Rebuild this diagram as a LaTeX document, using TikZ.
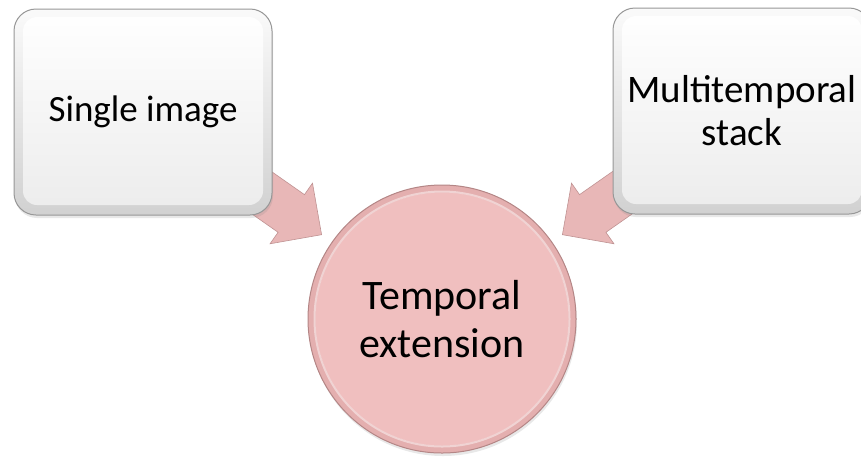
\documentclass[tikz,border=0pt]{standalone}
\usepackage{fontspec}
\setmainfont{Carlito}
\usetikzlibrary{calc,shadows}
\pgfdeclarelayer{background}
\pgfsetlayers{background,main}
\definecolor{boxrim}{HTML}{979797}
\definecolor{pinkfill}{HTML}{F0BFBF}
\definecolor{pinkrim}{HTML}{B48686}
\definecolor{pinkouter}{HTML}{E4AFAF}
\definecolor{arrowfill}{HTML}{E8B7B7}
\definecolor{arrowrim}{HTML}{BF9292}
\tikzset{
  bevelbox/.style={rectangle, rounded corners=22pt, minimum width=258pt, minimum height=206pt,
    draw=boxrim, line width=1pt, top color=gray!4, bottom color=gray!36,
    align=center, inner sep=0pt,
    drop shadow={opacity=0.18, shadow xshift=1pt, shadow yshift=-3pt},
    path picture={\shade[top color=white, bottom color=gray!15, rounded corners=14pt]
      ([shift={(9pt,10pt)}]path picture bounding box.south west) rectangle
      ([shift={(-9pt,-8pt)}]path picture bounding box.north east);}},
  hub/.style={circle, minimum size=268pt, inner sep=0pt, draw=pinkrim, line width=1pt,
    fill=pinkouter, align=center, font=\fontsize{42}{48}\selectfont,
    drop shadow={opacity=0.18, shadow xshift=1pt, shadow yshift=-3pt},
    path picture={\fill[pinkfill] (path picture bounding box.center) circle (126.5pt);
      \draw[white, opacity=0.45, line width=2pt] (path picture bounding box.center) circle (127.5pt);}},
  blockarrow/.style={fill=arrowfill, draw=arrowrim, line width=0.6pt, line join=miter}
}
\begin{document}
\begin{tikzpicture}[x=1pt,y=-1pt]
\useasboundingbox (0,0) rectangle (861,459);
\node[bevelbox, font=\fontsize{37}{43}\selectfont] (single) at (143,112) {Single image};
\node[bevelbox, font=\fontsize{39}{43}\selectfont] (multi) at (742,111) {Multitemporal\\stack};
\node[hub] (temporal) at (442,319) {Temporal\\extension};
\begin{pgfonlayer}{background}
\path[blockarrow]
  ($(temporal.center)+(215:262)+(305:23)$) --
  ($(temporal.center)+(215:184)+(305:23)$) --
  ($(temporal.center)+(215:184)+(305:37)$) --
  ($(temporal.center)+(215:147)$) --
  ($(temporal.center)+(215:184)+(125:37)$) --
  ($(temporal.center)+(215:184)+(125:23)$) --
  ($(temporal.center)+(215:262)+(125:23)$) -- cycle;
\path[blockarrow]
  ($(temporal.center)+(325:262)+(235:23)$) --
  ($(temporal.center)+(325:184)+(235:23)$) --
  ($(temporal.center)+(325:184)+(235:37)$) --
  ($(temporal.center)+(325:147)$) --
  ($(temporal.center)+(325:184)+(55:37)$) --
  ($(temporal.center)+(325:184)+(55:23)$) --
  ($(temporal.center)+(325:262)+(55:23)$) -- cycle;
\end{pgfonlayer}
\end{tikzpicture}
\end{document}
